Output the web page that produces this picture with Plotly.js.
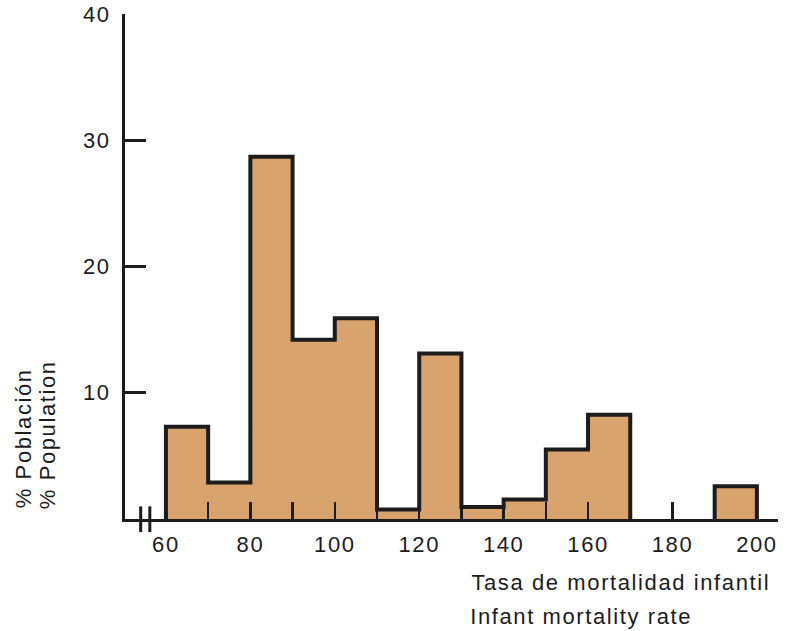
<!DOCTYPE html>
<html>
<head>
<meta charset="utf-8">
<script src="https://cdn.plot.ly/plotly-3.0.1.min.js"></script>
<style>
html,body{margin:0;padding:0;background:#fff;}
#chart{width:803px;height:631px;}
#chart svg text{letter-spacing:1.6px;}
</style>
</head>
<body>
<div id="chart"></div>
<script>
// Bin start values (infant mortality rate), bin width 10
const binStarts = [60, 70, 80, 90, 100, 110, 120, 130, 140, 150, 160, 170, 180, 190];
const binWidth = 10;
// % of population in each bin
const populationPct = [7.3, 2.9, 28.7, 14.2, 15.9, 0.75, 13.1, 0.95, 1.55, 5.5, 8.25, 0, 0, 2.6];
const yTickVals = [10, 20, 30, 40];
const xTitleLines = ["Tasa de mortalidad infantil", "Infant mortality rate"];
const yTitleLines = ["% Población", "% Population"];

const FILL = '#D8A36C';
const INK = '#1c1c1c';
const FONT = 'Liberation Sans, Arial, sans-serif';

// Fill bars
const centers = binStarts.map(b => b + binWidth / 2);
const barTrace = {
  type: 'bar', x: centers, y: populationPct, width: binWidth,
  marker: {color: FILL, line: {width: 0}},
  cliponaxis: false, hoverinfo: 'skip', showlegend: false
};

// Step outline around each run of non-empty bins
const ox = [], oy = [];
for (let i = 0; i < binStarts.length; i++) {
  const v = populationPct[i];
  if (v <= 0) continue;
  const x0 = binStarts[i], x1 = x0 + binWidth;
  const prevEmpty = i === 0 || populationPct[i - 1] <= 0;
  const nextEmpty = i === binStarts.length - 1 || populationPct[i + 1] <= 0;
  if (prevEmpty) { ox.push(x0); oy.push(0); }
  ox.push(x0); oy.push(v);
  ox.push(x1); oy.push(v);
  if (nextEmpty) { ox.push(x1); oy.push(0); ox.push(null); oy.push(null); }
}
const outlineTrace = {
  type: 'scatter', mode: 'lines', x: ox, y: oy,
  line: {color: INK, width: 4, shape: 'linear'},
  connectgaps: false, cliponaxis: false, hoverinfo: 'skip', showlegend: false
};

const tickFont = {family: FONT, size: 22, color: INK};
const titleFont = {family: FONT, size: 22, color: INK};

const layout = {
  width: 803, height: 631,
  margin: {l: 125, r: 25, t: 14, b: 112, pad: 0},
  paper_bgcolor: '#fff', plot_bgcolor: '#fff',
  showlegend: false,
  bargap: 0,
  xaxis: {
    range: [50.3, 205], showgrid: false, zeroline: false,
    showline: true, linecolor: INK, linewidth: 3,
    tick0: 60, dtick: 20, ticks: 'inside', ticklen: 17, tickwidth: 2.5, tickcolor: INK,
    minor: {tick0: 60, dtick: 10, ticks: 'inside', ticklen: 17, tickwidth: 2.5, tickcolor: INK, showgrid: false},
    tickfont: tickFont, ticklabelstandoff: 4, fixedrange: true
  },
  yaxis: {
    range: [0, 40], showgrid: false, zeroline: false,
    showline: true, linecolor: INK, linewidth: 3,
    tickvals: yTickVals, ticktext: yTickVals.map(String),
    ticks: 'inside', ticklen: 21, tickwidth: 3, tickcolor: INK,
    tickfont: tickFont, ticklabelstandoff: 7, fixedrange: true
  },
  shapes: [
    {type: 'line', xref: 'paper', yref: 'paper', x0: 0.024, x1: 0.024, y0: -0.026, y1: 0.025, line: {color: INK, width: 3}},
    {type: 'line', xref: 'paper', yref: 'paper', x0: 0.038, x1: 0.038, y0: -0.026, y1: 0.025, line: {color: INK, width: 3}}
  ],
  annotations: [
    {text: xTitleLines[0], xref: 'paper', yref: 'paper', x: 0.56, y: -0.126, xanchor: 'left', yanchor: 'middle',
     showarrow: false, font: titleFont},
    {text: xTitleLines[1], xref: 'paper', yref: 'paper', x: 0.552, y: -0.193, xanchor: 'left', yanchor: 'middle',
     showarrow: false, font: titleFont},
    {text: yTitleLines[0], xref: 'paper', yref: 'paper', x: -0.156, y: 0.035, xanchor: 'center', yanchor: 'bottom',
     textangle: -90, showarrow: false, font: titleFont},
    {text: yTitleLines[1], xref: 'paper', yref: 'paper', x: -0.119, y: 0.035, xanchor: 'center', yanchor: 'bottom',
     textangle: -90, showarrow: false, font: titleFont}
  ]
};

Plotly.newPlot('chart', [barTrace, outlineTrace], layout, {displayModeBar: false, staticPlot: true});
</script>
</body>
</html>
